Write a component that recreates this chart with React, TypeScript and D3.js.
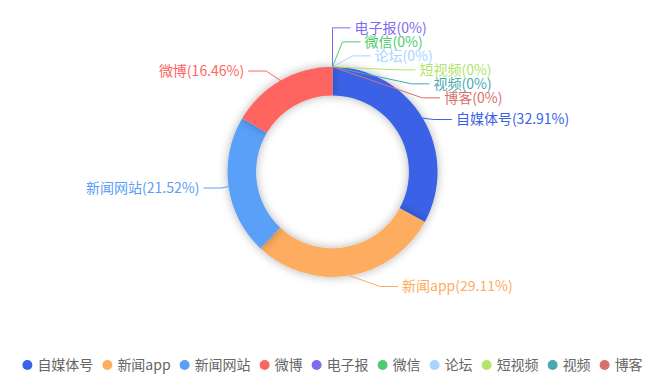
import React, { useEffect, useRef } from 'react';
import * as d3 from 'd3';

const categories = ['自媒体号', '新闻app', '新闻网站', '微博', '电子报', '微信', '论坛', '短视频', '视频', '博客'];
const values = [32.91, 29.11, 21.52, 16.46, 0, 0, 0, 0, 0, 0];
const colors = ['#3a62e6', '#fdac60', '#5aa0f8', '#ff6560', '#7d6cf0', '#4ecb70', '#a8d4ff', '#b3e46c', '#4aa8b0', '#d6716d'];

const W = 665;
const H = 382;
const FONT = '"Noto Sans CJK SC", "Noto Sans", sans-serif';

interface LabelItem {
  i: number;
  dir: number;
  x1: number; y1: number;
  x: number; y: number;
  height: number;
  len: number; len2: number;
}

export default function App() {
  const ref = useRef<SVGSVGElement>(null);

  useEffect(() => {
    const svg = d3.select(ref.current);
    svg.selectAll('*').remove();

    const cx = W * 0.5;
    const cy = H * 0.45;
    const minSide = Math.min(W, H) / 2;
    const R = minSide * 0.55;
    const r0 = minSide * 0.4;
    const len = 11;
    const len2 = 18;
    const gap = 4;
    const lh = 14;

    const defs = svg.append('defs');
    const f = defs.append('filter').attr('id', 'sh').attr('x', '-50%').attr('y', '-50%').attr('width', '200%').attr('height', '200%');
    f.append('feDropShadow').attr('dx', 0).attr('dy', 0).attr('stdDeviation', 5)
      .attr('flood-color', '#000').attr('flood-opacity', 0.3);

    const pie = d3.pie<number>().sort(null).value((d) => d)(values);
    const arc = d3.arc<d3.PieArcDatum<number>>().innerRadius(r0).outerRadius(R);

    const g = svg.append('g').attr('transform', `translate(${cx},${cy})`);
    pie.forEach((p, i) => {
      if (p.endAngle - p.startAngle <= 0) return;
      g.append('path').attr('d', arc(p) as string).attr('fill', colors[i]).attr('filter', 'url(#sh)');
    });

    // label layout (outer labels with overlap avoidance)
    const items: LabelItem[] = pie.map((p, i) => {
      const a = (p.startAngle + p.endAngle) / 2;
      const sx = Math.sin(a);
      const sy = -Math.cos(a);
      const dir = sx < -1e-6 ? -1 : 1;
      const x2 = cx + (R + len) * sx;
      const y2 = cy + (R + len) * sy;
      return {
        i, dir,
        x1: cx + R * sx, y1: cy + R * sy,
        x: x2 + dir * (len2 + gap), y: y2,
        height: lh, len, len2,
      };
    });

    const adjustSide = (list: LabelItem[], dir: number) => {
      list.sort((a, b) => a.y - b.y);
      const n = list.length;
      const shiftUp = (end: number, delta: number) => {
        for (let j = end; j >= 0; j--) {
          if (list[j].y - delta < 0) break;
          list[j].y -= delta;
          if (j > 0 && list[j].y > list[j - 1].y + list[j - 1].height) break;
        }
      };
      const shiftDown = (start: number, end: number, delta: number) => {
        for (let j = start; j < end; j++) {
          if (list[j].y + delta > H) break;
          list[j].y += delta;
          if (j > start && j + 1 < end && list[j + 1].y > list[j].y + list[j].height) {
            shiftUp(j, delta / 2);
            return;
          }
        }
        shiftUp(end - 1, delta / 2);
      };
      let lastY = 0;
      for (let i = 0; i < n; i++) {
        const delta = list[i].y - lastY;
        if (delta < 0) shiftDown(i, n, -delta);
        lastY = list[i].y + list[i].height;
      }
      if (H - lastY < 0) shiftUp(n - 1, lastY - H);
      const up = list.filter((d) => d.y < cy);
      const down = list.filter((d) => d.y >= cy);
      const changeX = (l: LabelItem[], isDown: boolean) => {
        let last = isDown ? Number.MAX_VALUE : 0;
        l.forEach((it) => {
          const dy = Math.abs(it.y - cy);
          let dx = dy < R + it.len - 0.01
            ? Math.sqrt((R + it.len + it.len2) ** 2 - dy * dy)
            : Math.abs(it.x - cx);
          if (isDown && dx >= last) dx = last - 10;
          if (!isDown && dx <= last) dx = last + 10;
          it.x = cx + dx * dir;
          last = dx;
        });
      };
      changeX(up, false);
      changeX(down, true);
    };
    adjustSide(items.filter((d) => d.dir > 0), 1);
    adjustSide(items.filter((d) => d.dir < 0), -1);

    const lg = svg.append('g');
    items.forEach((it) => {
      const p3x = it.x - it.dir * gap;
      const p2x = p3x - it.dir * it.len2;
      lg.append('polyline')
        .attr('points', `${it.x1},${it.y1} ${p2x},${it.y} ${p3x},${it.y}`)
        .attr('fill', 'none').attr('stroke', colors[it.i]).attr('stroke-width', 1);
      lg.append('text')
        .attr('x', it.x).attr('y', it.y).attr('dy', '0.35em')
        .attr('text-anchor', it.dir > 0 ? 'start' : 'end')
        .attr('fill', colors[it.i]).attr('font-size', 14).attr('font-family', FONT)
        .text(`${categories[it.i]}(${values[it.i]}%)`);
    });

    // legend
    const leg = svg.append('g');
    const itemsG = categories.map((c, i) => {
      const gi = leg.append('g');
      gi.append('circle').attr('cx', 5).attr('cy', 0).attr('r', 5).attr('fill', colors[i]);
      const t = gi.append('text').attr('x', 15).attr('y', 0).attr('dy', '0.35em')
        .attr('font-size', 14).attr('font-family', FONT).attr('fill', '#666').text(c);
      const w = (t.node() as SVGTextElement).getComputedTextLength();
      return { gi, w: 15 + w };
    });
    const itemGap = 9;
    const total = itemsG.reduce((s, d) => s + d.w, 0) + itemGap * (itemsG.length - 1);
    let x0 = (W - total) / 2;
    const ly = H - 17;
    itemsG.forEach((d) => {
      d.gi.attr('transform', `translate(${x0},${ly})`);
      x0 += d.w + itemGap;
    });
  }, []);

  return (
    <svg ref={ref} width={W} height={H}
      style={{ position: 'absolute', left: 0, top: 0, background: '#fff' }} />
  );
}
